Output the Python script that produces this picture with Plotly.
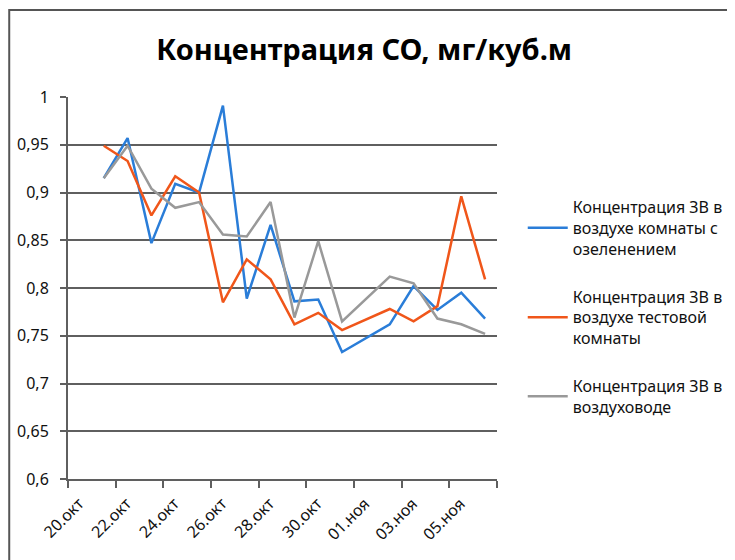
import plotly.graph_objects as go

# measurement days (1 Nov has no reading)
dates = ["2020-10-21", "2020-10-22", "2020-10-23", "2020-10-24", "2020-10-25",
         "2020-10-26", "2020-10-27", "2020-10-28", "2020-10-29", "2020-10-30",
         "2020-10-31", "2020-11-02", "2020-11-03", "2020-11-04", "2020-11-05",
         "2020-11-06"]

# CO concentration, mg/m3
green_room = [0.915, 0.957, 0.847, 0.909, 0.900, 0.991, 0.789, 0.866, 0.786,
              0.788, 0.733, 0.762, 0.802, 0.777, 0.795, 0.768]
test_room = [0.949, 0.933, 0.876, 0.917, 0.900, 0.785, 0.830, 0.809, 0.762,
             0.774, 0.756, 0.778, 0.765, 0.781, 0.896, 0.809]
air_duct = [0.915, 0.949, 0.904, 0.884, 0.890, 0.856, 0.854, 0.890, 0.769,
            0.849, 0.765, 0.812, 0.805, 0.768, 0.762, 0.752]

tick_dates = ["2020-10-20", "2020-10-22", "2020-10-24", "2020-10-26", "2020-10-28",
              "2020-10-30", "2020-11-01", "2020-11-03", "2020-11-05", "2020-11-07"]
tick_text = ["20.окт", "22.окт", "24.окт", "26.окт", "28.окт", "30.окт",
             "01.ноя", "03.ноя", "05.ноя", ""]

series = [
    ("Концентрация ЗВ в<br>воздухе комнаты с<br>озеленением", green_room, "#2A7DD8"),
    ("Концентрация ЗВ в<br>воздухе тестовой<br>комнаты", test_room, "#F0561A"),
    ("Концентрация ЗВ в<br>воздуховоде", air_duct, "#999999"),
]

FONT = "Noto Sans"
GRID = "#5f5f5f"

fig = go.Figure()
for i, (name, ys, col) in enumerate(series):
    fig.add_trace(go.Scatter(
        x=dates, y=ys, mode="lines", name=name, legendgroup=str(i),
        xperiod=86400000, xperiodalignment="middle",
        line=dict(color=col, width=2.5)))

# page body adds an 8px offset, so the figure is 8px smaller than the window
fig.update_layout(
    width=727, height=552,
    margin=dict(l=60, r=238, t=89, b=81, autoexpand=False),
    paper_bgcolor="white", plot_bgcolor="white",
    separators=", ",
    font=dict(family=FONT, size=16, color="#111111"),
    title=dict(text="<b>Концентрация CO, мг/куб.м</b>", x=0.49, xanchor="center",
               y=0.924, yanchor="middle", font=dict(family=FONT, size=29, color="black")),
    showlegend=True,
    legend=dict(x=1.06, xanchor="left", y=0.45, yanchor="middle",
                tracegroupgap=24, itemwidth=40,
                font=dict(family=FONT, size=16, color="#111111")),
)

fig.update_xaxes(
    type="date", range=["2020-10-20", "2020-11-07"], automargin=False,
    tickmode="array", tickvals=tick_dates, ticktext=tick_text,
    tickangle=-45, ticklabelshift=11,
    ticks="outside", ticklen=7, tickwidth=2, tickcolor=GRID,
    showline=True, linecolor=GRID, linewidth=2,
    showgrid=False, zeroline=False,
    tickfont=dict(family=FONT, size=16, color="#111111"),
)
fig.update_yaxes(
    range=[0.6, 1.0], dtick=0.05, tick0=0.6, automargin=False,
    ticks="outside", ticklen=6, tickwidth=2, tickcolor=GRID,
    showline=True, linecolor=GRID, linewidth=2,
    showgrid=True, gridcolor=GRID, gridwidth=2, zeroline=False,
    ticklabelstandoff=8,
    tickfont=dict(family=FONT, size=16, color="#111111"),
)

# chart-area border, as in the spreadsheet export
fig.add_shape(type="rect", xref="paper", yref="paper",
              x0=-0.137, x1=1.7, y0=-0.4, y1=1.228,
              line=dict(color="#555555", width=2), layer="below")

fig.write_html("out.html")
